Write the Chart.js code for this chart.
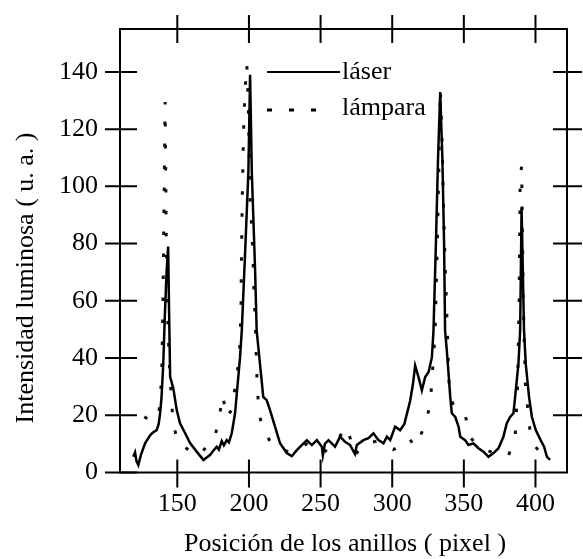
<!DOCTYPE html>
<html>
<head>
<meta charset="utf-8">
<script src="https://cdn.jsdelivr.net/npm/chart.js@4"></script>
<style>
  html, body { margin: 0; padding: 0; background: #fff; }
  #wrap { width: 583px; height: 559px; }
</style>
</head>
<body>
<div id="wrap"><canvas id="chart"></canvas></div>
<script>
// láser trace (solid)
const laserX = [119.3, 120.5, 121.5, 122.8, 124.5, 127.5, 131, 133, 135.6, 137, 138, 139, 140.2, 141.3, 142.5, 143.6, 144.3, 145,
  147.2, 149.6, 151.9, 155.4, 158.9, 163.5, 168.2, 172.8, 175, 177.5, 179, 181, 182.5, 184.5, 186, 188, 190.3, 193.8, 195,
  197.3, 199.6, 200.8, 202, 204.3, 205.4, 207.7, 210, 212.4, 214.7, 218.2, 221.7, 226.4, 229.9, 233.4, 236.9, 240.4,
  243.9, 247.4, 250.9, 251.6, 253, 255.5, 260.1, 263.6, 267.1, 270.6, 274, 275.3, 279.9, 283.4, 286.9, 290.4, 293.9, 296.3,
  298.6, 302, 305.5, 308.5, 310.5, 312.5, 314.5, 316, 318.3, 320.7, 323, 325.4, 327.7, 328.8, 330.5, 332, 333.5, 335,
  336.2, 336.9, 338.1, 339.3, 340.5, 341.6, 344, 346.3, 347.5, 350.9, 353.2, 356.7, 360.2, 363.7, 367.2, 370.7, 374.2,
  377.6, 380, 382.3, 384.6, 385.8, 388.1, 389.3, 390.3, 392, 393.2, 395.5, 397.5, 400.2, 403.6, 406, 408, 410.2];
const laserY = [5.5, 7, 4, 2.6, 6, 10.2, 13, 14, 14.8, 17, 20.7, 26.4, 38, 55, 70, 79, 55, 33.4,
  29.4, 21.8, 17.2, 13.8, 10.3, 7.3, 4.4, 6.1, 7.5, 9, 8, 11, 9.5, 11.3, 10.5, 13.7, 20.7, 40.3, 49.6,
  76.5, 105, 139, 105, 70.6, 49.6, 38, 26.4, 25.3, 21.8, 16, 10.2, 6.8, 5.7, 7.8, 9.6, 11.3,
  9.6, 11.3, 9, 6, 10, 11.3, 9, 12.5, 10.7, 9.6, 6.5, 9.6, 11.3, 12, 13.7, 11.3, 10.2, 12.5,
  11.3, 16, 14.8, 17, 21, 25, 31, 37.4, 33.4, 28.7, 33.4, 35.1, 40.3, 49.6, 80, 110, 133, 110,
  80, 49.6, 42.7, 34.7, 26.4, 20.7, 19.4, 16, 12.5, 11.3, 9.6, 10.2, 8.5, 7.3, 5.5, 6.8, 8.5,
  12.5, 17.2, 19.4, 20.7, 26.4, 38, 49.6, 92.6, 49.6, 38, 26.4, 19.4, 14.8, 11.3, 9, 5.5, 4.4];

// lámpara trace (dotted)
const lampX = [127, 130, 134.4, 137, 138, 139.1, 139.5, 139.9, 140.3, 140.6, 141, 141.3, 141.5, 142.3, 143.5, 145, 146.1,
  146.8, 150.7, 155, 160, 165, 169.4, 172.8, 176.3, 179.5, 181.7, 184.5, 188, 193.3, 194.4, 194.7, 195.1, 195.6, 196.2,
  197, 197.8, 198.5, 199.5, 200.8, 202, 202.5, 203.1, 203.5, 204.3, 204.8, 205.2, 205.7, 206.6, 208.9, 215.9, 222, 230,
  240, 252, 260, 268, 272, 274, 280, 290, 296, 300.9, 304, 307.9, 312, 315.6, 319, 322, 326.4, 327.6, 329.9, 331.5,
  332.7, 333.6, 334.6, 335.3, 336, 336.9, 338, 338.5, 339, 339.3, 340.5, 344, 350.9, 355, 360, 370, 376, 381, 385.8,
  387.5, 388.6, 389.3, 390.3, 391.5, 393, 396.4, 400, 405, 410];
const lampY = [19.5, 18.5, 18.3, 20, 25.8, 33.4, 45, 57, 73, 89, 105, 120, 129.5, 80, 50, 32, 26,
  17.7, 10, 9, 7, 6, 8.4, 10.2, 12.5, 20, 27, 19.2, 22, 40, 55.6, 71.7, 87.4, 103, 118.7,
  130, 138, 142.6, 130, 95.5, 85.6, 78.7, 70.6, 62.4, 54.3, 47, 39, 31.6, 23.5, 15.7, 10, 8, 7,
  10, 7, 10, 16, 10, 6, 10, 11, 9, 8, 9, 10.2, 11.9, 9, 12, 15.7, 23.2, 31.3, 48.5, 80,
  110, 134, 120.5, 105, 89, 73.5, 57.2, 49.6, 41.5, 34, 26.4, 22, 20, 12, 9, 7, 6, 5.7, 12.3,
  30, 60, 102.5, 107, 60, 30, 13.4, 9, 6, 4];

const xTicks = [150, 200, 250, 300, 350, 400];
const yTicks = [0, 20, 40, 60, 80, 100, 120, 140];
const rightTicks = [20, 40, 60, 80, 100, 120, 140];
const seriesNames = ['láser', 'lámpara'];
const xTitle = 'Posición de los anillos ( pixel )';
const yTitle = 'Intensidad luminosa ( u. a. )';

const toPts = (xs, ys) => xs.map((x, i) => ({ x: x, y: ys[i] }));
const serif = 'Liberation Serif, Times New Roman, serif';

const frame = {
  id: 'frame',
  afterDatasetsDraw(chart) {
    const { ctx, chartArea: a, scales } = chart;
    const xs = scales.x, ys = scales.y;
    ctx.save();
    ctx.strokeStyle = '#000';
    ctx.lineWidth = 2;
    ctx.strokeRect(a.left, a.top, a.right - a.left, a.bottom - a.top);
    ctx.beginPath();
    xTicks.forEach(v => {
      const p = xs.getPixelForValue(v);
      ctx.moveTo(p, a.bottom - 13); ctx.lineTo(p, a.bottom + 15);
      ctx.moveTo(p, a.top - 14); ctx.lineTo(p, a.top + 14);
    });
    yTicks.forEach(v => {
      const p = ys.getPixelForValue(v);
      ctx.moveTo(a.left - 15, p); ctx.lineTo(a.left + 17, p);
    });
    rightTicks.forEach(v => {
      const p = ys.getPixelForValue(v);
      ctx.moveTo(a.right - 14, p); ctx.lineTo(a.right + 15, p);
    });
    ctx.stroke();

    // legend
    ctx.beginPath();
    ctx.moveTo(267, 72); ctx.lineTo(340, 72);
    ctx.stroke();
    ctx.save();
    ctx.lineWidth = 3;
    ctx.setLineDash([5, 17]);
    ctx.beginPath();
    ctx.moveTo(267, 110); ctx.lineTo(318, 110);
    ctx.stroke();
    ctx.restore();
    ctx.fillStyle = '#000';
    ctx.font = '26px ' + serif;
    ctx.textAlign = 'left';
    ctx.textBaseline = 'alphabetic';
    ctx.fillText(seriesNames[0], 342, 79);
    ctx.fillText(seriesNames[1], 342, 115);

    // axis titles
    ctx.textAlign = 'center';
    ctx.fillText(xTitle, 345, 551);
    ctx.translate(33, 278);
    ctx.rotate(-Math.PI / 2);
    ctx.fillText(yTitle, 0, 0);
    ctx.restore();
  }
};

new Chart(document.getElementById('chart'), {
  type: 'scatter',
  data: {
    datasets: [
      { label: seriesNames[0], data: toPts(laserX, laserY), showLine: true, borderColor: '#000',
        borderWidth: 2.5, pointRadius: 0, tension: 0 },
      { label: seriesNames[1], data: toPts(lampX, lampY), showLine: true, borderColor: '#111',
        borderWidth: 3, borderDash: [3.5, 18.5], pointRadius: 0, tension: 0 }
    ]
  },
  options: {
    responsive: true,
    maintainAspectRatio: false,
    animation: false,
    devicePixelRatio: 1,
    layout: { padding: { top: 29, right: 16, left: 0, bottom: 0 } },
    plugins: { legend: { display: false }, tooltip: { enabled: false } },
    scales: {
      x: {
        type: 'linear', min: 110, max: 422,
        afterBuildTicks: s => { s.ticks = xTicks.map(v => ({ value: v })); },
        afterFit: s => { s.height = 86.5; s.paddingLeft = 0; s.paddingRight = 0; },
        grid: { display: false, drawTicks: false },
        border: { display: false },
        ticks: { color: '#000', padding: 16, maxRotation: 0, font: { family: serif, size: 26 } }
      },
      y: {
        type: 'linear', min: 0, max: 155,
        afterBuildTicks: s => { s.ticks = yTicks.map(v => ({ value: v })); },
        afterFit: s => { s.width = 120; s.paddingTop = 0; s.paddingBottom = 0; },
        grid: { display: false, drawTicks: false },
        border: { display: false },
        ticks: { color: '#000', padding: 22, font: { family: serif, size: 26 } }
      }
    }
  },
  plugins: [frame]
});
</script>
</body>
</html>
